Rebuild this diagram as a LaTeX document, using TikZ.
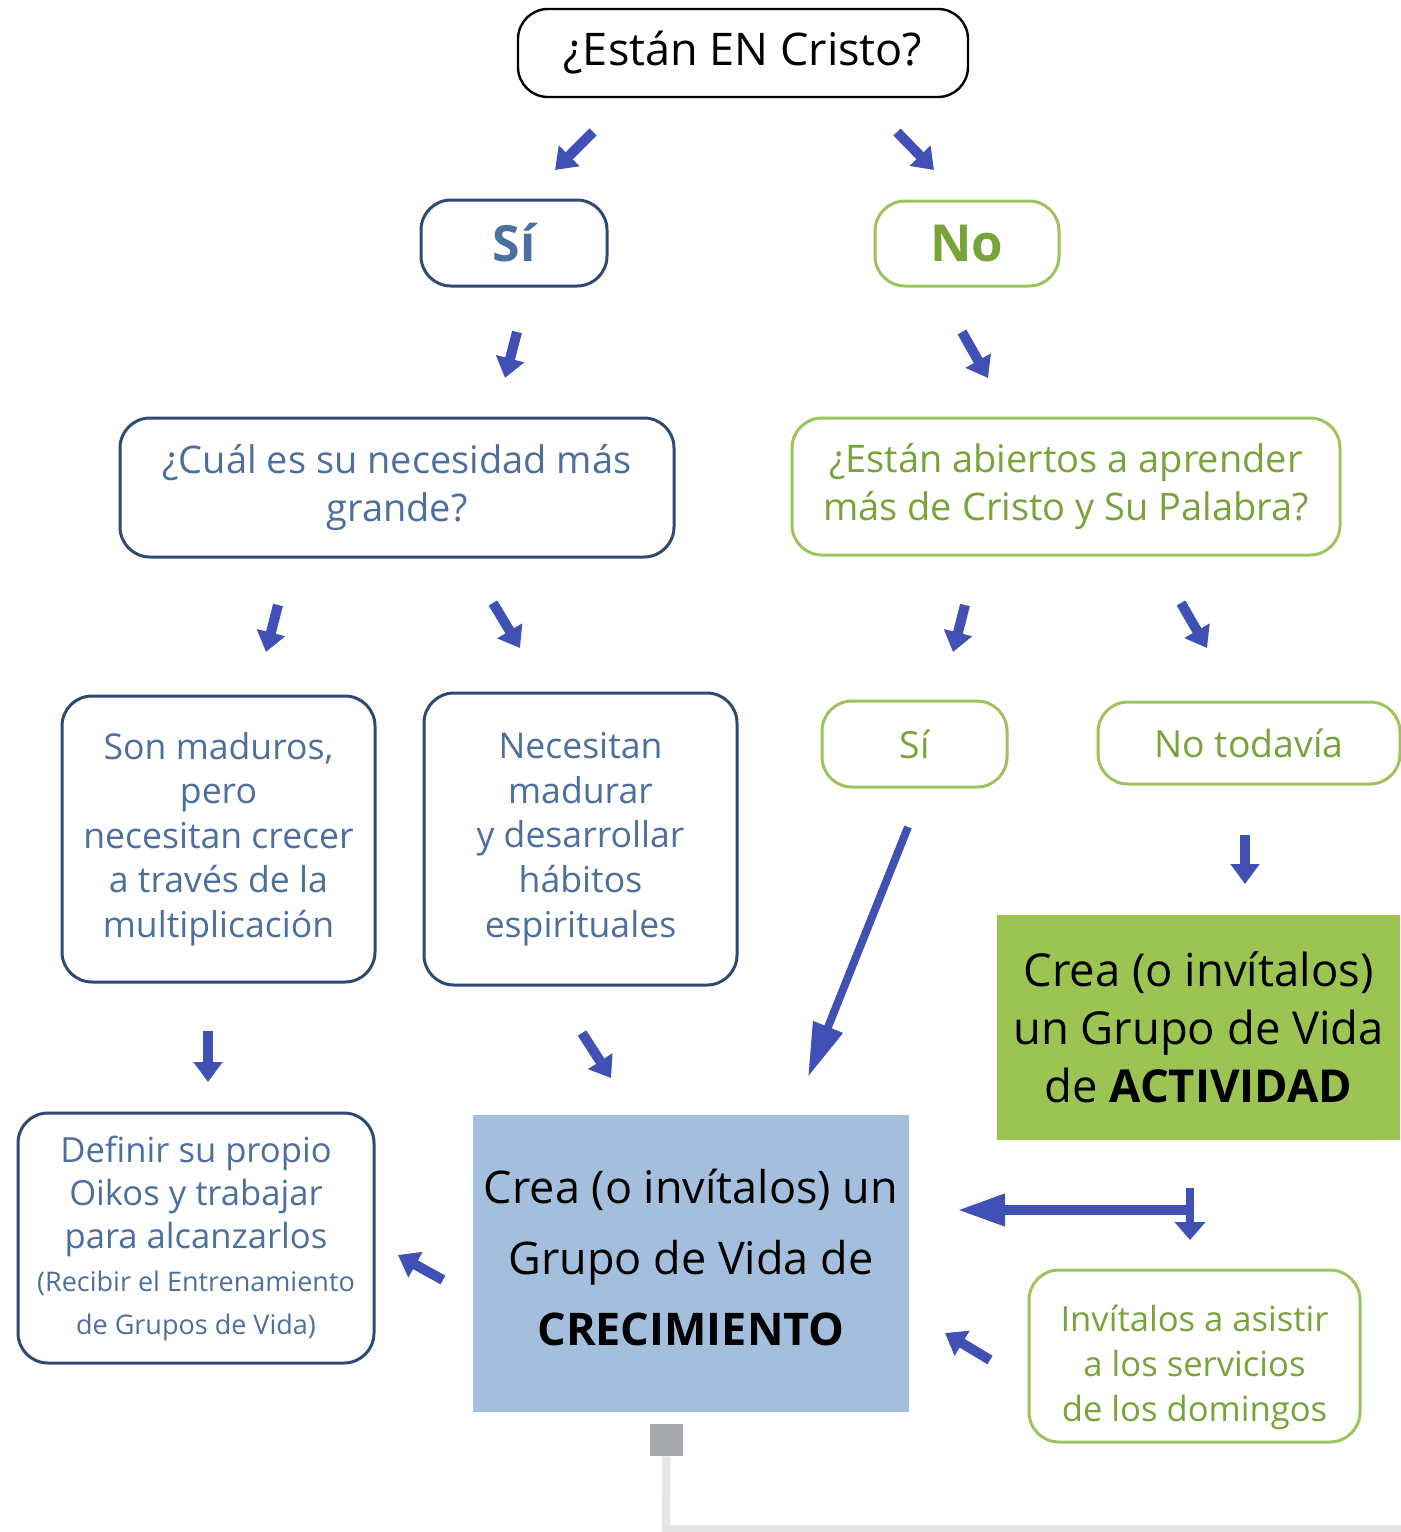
\documentclass[tikz,border=0pt]{standalone}
\usepackage{fontspec}
\setmainfont{Open Sans}
\usepackage{xcolor}
\usetikzlibrary{arrows.meta}

\definecolor{arrowblue}{RGB}{64,80,180}
\definecolor{boxblue}{RGB}{46,74,112}
\definecolor{textblue}{RGB}{77,111,157}
\definecolor{boxgreen}{RGB}{157,195,93}
\definecolor{textgreen}{RGB}{120,163,58}
\definecolor{fillgreen}{RGB}{155,196,83}
\definecolor{fillblue}{RGB}{163,191,221}
\definecolor{tabgray}{RGB}{167,168,171}
\definecolor{linegray}{RGB}{229,230,232}

\newcommand{\fs}[2]{\fontsize{#1pt}{#2pt}\selectfont}

\tikzset{
    box/.style={draw, line width=1.5pt, rounded corners=15pt, align=center, inner sep=0pt},
    bluebox/.style={box, draw=boxblue, text=textblue},
    greenbox/.style={box, draw=boxgreen, text=textgreen},
    fillbox/.style={align=center, inner sep=0pt, text=black},
    arr/.style={arrowblue, line width=5pt, -{Triangle[length=10pt, width=14pt]}},
}

\begin{document}
\begin{tikzpicture}[x=0.5pt, y=-0.5pt]
        \useasboundingbox (0, 0) rectangle (1401, 1532);

        % question boxes
        \node[box, draw=black, line width=1.2pt, minimum width=225pt, minimum height=44pt, font=\fs{22.5}{27}] (top) at (743, 53) {¿Están EN Cristo?};
        \node[bluebox, minimum width=93pt, minimum height=43pt, font=\fs{25}{30}\bfseries] (si) at (514, 243) {Sí};
        \node[greenbox, minimum width=92pt, minimum height=42.5pt, font=\fs{25.5}{30}\bfseries] (no) at (967, 243.5) {No};
        \node[bluebox, minimum width=277pt, minimum height=69.5pt, font=\fs{19}{24}] (need) at (397, 487.5) {¿Cuál es su necesidad más\\grande?};
        \node[greenbox, minimum width=274pt, minimum height=68.5pt, font=\fs{19}{24}] (open) at (1066, 486.5) {¿Están abiertos a aprender\\más de Cristo y Su Palabra?};

        % answers
        \node[bluebox, minimum width=156.5pt, minimum height=143pt, font=\fs{17.8}{22.3}] (mature) at (218.5, 839) {Son maduros,\\pero\\necesitan crecer\\a través de la\\multiplicación};
        \node[bluebox, minimum width=156.5pt, minimum height=146pt, font=\fs{17.8}{22.3}] (grow) at (580.5, 839) {Necesitan\\madurar\\y desarrollar\\hábitos\\espirituales};
        \node[greenbox, minimum width=92.5pt, minimum height=43pt, font=\fs{18.7}{24}] (yes) at (914.5, 744) {Sí};
        \node[greenbox, minimum width=151pt, minimum height=41pt, font=\fs{18.7}{24}] (notyet) at (1249, 743) {No todavía};

        % groups
        \node[fillbox, fill=fillgreen, minimum width=201.5pt, minimum height=112.5pt, font=\fs{22.7}{29}] (activity) at (1198.5, 1027.5) {Crea (o invítalos)\\un Grupo de Vida\\de \textbf{ACTIVIDAD}};
        \node[fill=fillblue, minimum width=218pt, minimum height=148.5pt, inner sep=0pt] (growth) at (691, 1263.5) {};
        \node[fillbox, font=\fs{22.5}{35.5}] (growthtext) at ([yshift=3pt]growth.center) {Crea (o invítalos) un\\Grupo de Vida de\\\textbf{CRECIMIENTO}};
        \node[bluebox, minimum width=178pt, minimum height=125pt, font=\fs{17.3}{21.5}] (oikos) at (196, 1238) {Definir su propio\\Oikos y trabajar\\para alcanzarlos\\\fs{13.5}{21.5}(Recibir el Entrenamiento\\\fs{13.5}{21.5}de Grupos de Vida)};
        \node[greenbox, minimum width=165.5pt, minimum height=86pt] (invite) at (1194.5, 1356) {};
        \node[align=center, inner sep=0pt, text=textgreen, font=\fs{17.3}{22.5}] (invitetext) at ([yshift=-5.5pt]invite.center) {Invítalos a asistir\\a los servicios\\de los domingos};

        % arrows
        \coordinate (a1s) at (593, 132);  \coordinate (a1e) at (555, 170);
        \coordinate (a2s) at (897, 132);  \coordinate (a2e) at (934, 170);
        \coordinate (a3s) at (517, 332);  \coordinate (a3e) at (505, 378);
        \coordinate (a4s) at (962, 332);  \coordinate (a4e) at (988, 378);
        \coordinate (a5s) at (278, 605);  \coordinate (a5e) at (266, 652);
        \coordinate (a6s) at (493, 603);  \coordinate (a6e) at (520, 648);
        \coordinate (a7s) at (965, 605);  \coordinate (a7e) at (953, 652);
        \coordinate (a8s) at (1181, 603); \coordinate (a8e) at (1207, 648);
        \coordinate (a9s) at (1245, 835); \coordinate (a9e) at (1245, 884);
        \coordinate (a10s) at (208, 1031); \coordinate (a10e) at (208, 1082);
        \coordinate (a11s) at (582, 1033); \coordinate (a11e) at (611, 1078);
        \coordinate (a12s) at (443, 1280); \coordinate (a12e) at (398, 1255);
        \coordinate (a13s) at (990, 1360); \coordinate (a13e) at (945, 1333);
        \foreach \i in {1,...,13} {
            \draw[arr] (a\i s) -- (a\i e);
        }

        % long and joined arrows
        \coordinate (ls) at (908, 827);  \coordinate (le) at (808, 1077);
        \draw[arrowblue, line width=4pt, -{Triangle[length=27pt, width=15pt]}] (ls) -- (le);
        \coordinate (hs) at (1190, 1210); \coordinate (he) at (957, 1210);
        \draw[arrowblue, line width=5pt, -{Triangle[length=24pt, width=15pt]}] (hs) -- (he);
        \coordinate (vs) at (1190, 1188); \coordinate (ve) at (1190, 1240);
        \draw[arrowblue, line width=4pt, -{Triangle[length=9pt, width=15pt]}] (vs) -- (ve);

        % tab and line
        \node[fill=tabgray, minimum width=16.5pt, minimum height=16pt, inner sep=0pt] (tab) at (666.5, 1440) {};
        \coordinate (corner) at (666, 1529);
        \coordinate (lend) at (1401, 1529);
        \draw[linegray, line width=4pt] (tab.south) -- (corner) -- (lend);
\end{tikzpicture}
\end{document}
